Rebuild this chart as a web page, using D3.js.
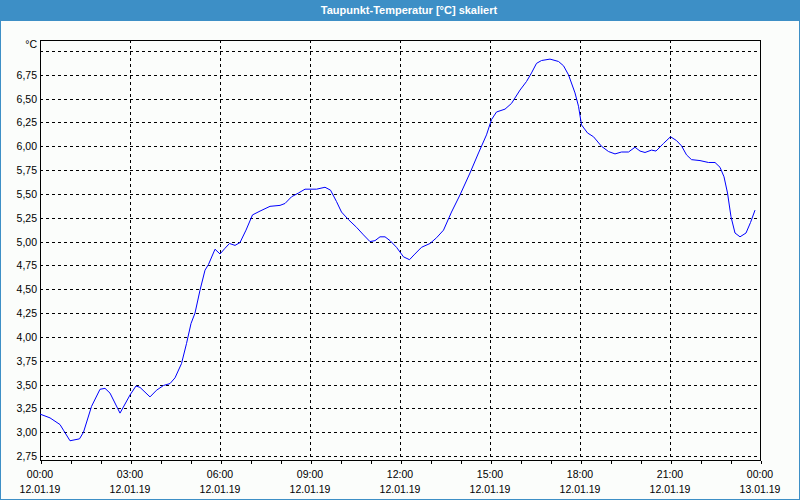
<!DOCTYPE html>
<html>
<head>
<meta charset="utf-8">
<script src="https://cdn.jsdelivr.net/npm/d3@7"></script>
<style>
  html, body { margin: 0; padding: 0; background: #fbfdfb; }
  svg { display: block; }
  text { font-family: "Liberation Sans", Arial, sans-serif; }
</style>
</head>
<body>
<svg id="chart" width="800" height="500"></svg>
<script>
const title = "Taupunkt-Temperatur [°C] skaliert";
const unit = "°C";
const times = ["00:00","00:20","00:40","00:47","01:00","01:19","01:27","01:43","02:00","02:10","02:20","02:40",
  "03:00","03:12","03:20","03:40","03:53","04:07","04:20","04:30","04:43","04:53","05:02","05:10","05:20","05:30",
  "05:37","05:50","06:00","06:10","06:19","06:30","06:40","06:52","07:05","07:20","07:40","08:00","08:10","08:23",
  "08:37","08:50","09:13","09:30","09:41","09:53","10:03","10:17","10:33","10:47","11:00","11:10","11:20","11:30",
  "11:40","11:53","12:07","12:19","12:28","12:43","13:00","13:13","13:27","13:43","14:00","14:20","14:37","14:53",
  "15:03","15:13","15:30","15:43","16:00","16:13","16:23","16:33","16:43","17:00","17:17","17:27","17:37","17:50",
  "17:57","18:03","18:15","18:27","18:43","18:57","19:10","19:23","19:37","19:50","20:00","20:10","20:23","20:32",
  "20:47","21:01","21:13","21:23","21:33","21:43","22:00","22:17","22:30","22:40","22:48","22:55","23:02","23:10",
  "23:20","23:32","23:41","23:50"];
const values = [3.19,3.15,3.08,3.02,2.91,2.93,3.00,3.27,3.45,3.46,3.41,3.20,
  3.39,3.485,3.47,3.37,3.44,3.49,3.51,3.57,3.72,3.93,4.14,4.25,4.49,4.70,
  4.76,4.92,4.87,4.93,4.98,4.96,4.99,5.12,5.28,5.32,5.37,5.38,5.40,5.47,
  5.51,5.55,5.55,5.57,5.54,5.42,5.31,5.23,5.15,5.07,5.00,5.01,5.05,5.05,
  5.01,4.94,4.84,4.81,4.86,4.94,4.98,5.04,5.12,5.31,5.49,5.72,5.93,6.12,
  6.28,6.36,6.39,6.45,6.59,6.68,6.77,6.87,6.90,6.915,6.89,6.845,6.75,6.56,
  6.42,6.225,6.14,6.10,6.00,5.945,5.92,5.94,5.94,5.99,5.95,5.935,5.96,5.95,
  6.03,6.10,6.06,6.005,5.91,5.86,5.85,5.83,5.83,5.78,5.68,5.51,5.26,5.09,
  5.05,5.09,5.20,5.33];
const yTicks = [2.75,3.00,3.25,3.50,3.75,4.00,4.25,4.50,4.75,5.00,5.25,5.50,5.75,6.00,6.25,6.50,6.75];
const yGrid = [2.75,3.00,3.25,3.50,3.75,4.00,4.25,4.50,4.75,5.00,5.25,5.50,5.75,6.00,6.25,6.50,6.75,7.00];
const xTickHours = [0,3,6,9,12,15,18,21,24];
const xTimeLabels = ["00:00","03:00","06:00","09:00","12:00","15:00","18:00","21:00","00:00"];
const xDateLabels = ["12.01.19","12.01.19","12.01.19","12.01.19","12.01.19","12.01.19","12.01.19","12.01.19","13.01.19"];

const toMin = s => { const [h, m] = s.split(":").map(Number); return h * 60 + m; };
const data = times.map((t, i) => ({ t: toMin(t), v: values[i] }));

const svg = d3.select("#chart");
const L = 40, R = 760, T = 40, B = 460;
const x = d3.scaleLinear().domain([0, 1440]).range([L, R]);
const y = d3.scaleLinear().domain([2.75, 7.0]).range([456, 51]);
const blue = "#3d8fc6";

// page border and title bar
svg.append("rect").attr("x", 0.5).attr("y", 0.5).attr("width", 799).attr("height", 499)
  .attr("fill", "#fbfdfb").attr("stroke", blue).attr("stroke-width", 1);
svg.append("rect").attr("x", 0).attr("y", 0).attr("width", 800).attr("height", 21).attr("fill", blue);
svg.append("text").attr("x", 409).attr("y", 14).attr("text-anchor", "middle")
  .attr("fill", "#fff").attr("font-size", 11).attr("font-weight", "bold").text(title);

// horizontal grid
svg.append("g").selectAll("line").data(yGrid).join("line")
  .attr("x1", L).attr("x2", R)
  .attr("y1", d => Math.round(y(d)) + 0.5).attr("y2", d => Math.round(y(d)) + 0.5)
  .attr("stroke", "#000").attr("stroke-dasharray", "3,3").attr("shape-rendering", "crispEdges");
// vertical grid
svg.append("g").selectAll("line").data(xTickHours.slice(1, -1)).join("line")
  .attr("x1", d => Math.round(x(d * 60)) + 0.5).attr("x2", d => Math.round(x(d * 60)) + 0.5)
  .attr("y1", T).attr("y2", B)
  .attr("stroke", "#000").attr("stroke-dasharray", "3,3").attr("shape-rendering", "crispEdges");

// frame
svg.append("rect").attr("x", L + 0.5).attr("y", T + 0.5).attr("width", R - L).attr("height", B - T)
  .attr("fill", "none").attr("stroke", "#000").attr("shape-rendering", "crispEdges");

// x axis (hourly ticks)
const xAxis = d3.axisBottom(x).tickValues(d3.range(0, 1441, 60)).tickSize(3).tickFormat("");
const gx = svg.append("g").attr("transform", `translate(0.5,${B + 0.5})`).call(xAxis);
gx.select(".domain").remove();
gx.selectAll("line").attr("shape-rendering", "crispEdges");

svg.append("g").selectAll("text").data(xTickHours).join("text")
  .attr("x", d => x(d * 60)).attr("y", 478).attr("text-anchor", "middle")
  .attr("font-size", 10.5).attr("fill", "#000").text((d, i) => xTimeLabels[i]);
svg.append("g").selectAll("text").data(xTickHours).join("text")
  .attr("x", d => x(d * 60)).attr("y", 493).attr("text-anchor", "middle")
  .attr("font-size", 10.5).attr("fill", "#000").text((d, i) => xDateLabels[i]);

// y labels
svg.append("g").selectAll("text").data(yTicks).join("text")
  .attr("x", 37).attr("y", d => y(d) + 4).attr("text-anchor", "end")
  .attr("font-size", 10.5).attr("fill", "#000").text(d => d.toFixed(2).replace(".", ","));
svg.append("text").attr("x", 37).attr("y", 48).attr("text-anchor", "end")
  .attr("font-size", 10.5).attr("fill", "#000").text(unit);

// line
const line = d3.line().x(d => x(d.t)).y(d => y(d.v));
svg.append("path").datum(data).attr("d", line)
  .attr("fill", "none").attr("stroke", "#0000ff").attr("stroke-width", 1);
</script>
</body>
</html>
